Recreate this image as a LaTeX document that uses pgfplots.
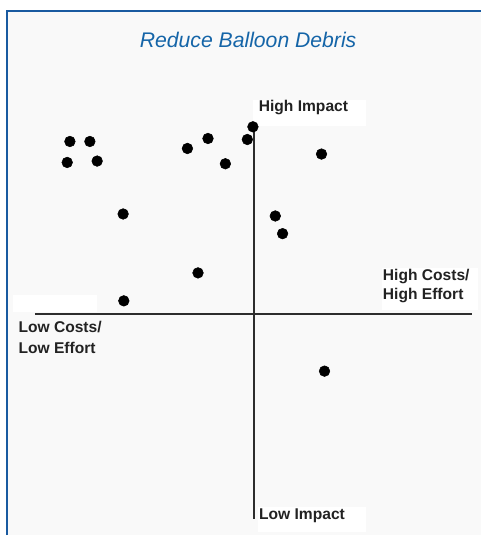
\documentclass[border=0pt]{standalone}
\usepackage{pgfplots}
\pgfplotsset{compat=1.18}
\usepackage{fontspec}
\setmainfont{Liberation Sans}
\definecolor{titleblue}{RGB}{21,101,168}
\definecolor{borderblue}{RGB}{25,90,160}
\definecolor{bgc}{RGB}{249,249,249}
\definecolor{txt}{RGB}{34,34,34}
\definecolor{linec}{RGB}{45,45,45}
\begin{document}
\begin{tikzpicture}
\begin{axis}[
  scale only axis, width=361.5pt, height=402pt,
  xmin=-254, xmax=228, ymin=-222, ymax=314,
  hide axis, clip=false,
]
% background
\fill[white] (axis cs:-254,314) rectangle (axis cs:228,-222);
\fill[bgc] (axis cs:-247,303) rectangle (axis cs:228,-222);
\draw[borderblue, line width=1.2pt] (axis cs:-247,-222) -- (axis cs:-247,303) -- (axis cs:228,303);
% white label boxes
\fill[white] (axis cs:-1,214) rectangle (axis cs:113,188);
\fill[white] (axis cs:129,46) rectangle (axis cs:225,4);
\fill[white] (axis cs:4,-194) rectangle (axis cs:113,-219);
\fill[white] (axis cs:-241,19) rectangle (axis cs:-157,2);
% quadrant lines
\draw[linec, line width=1.5pt] (axis cs:0,192) -- (axis cs:0,-206);
\draw[linec, line width=1.5pt] (axis cs:-219,0) -- (axis cs:219,0);
% data
\addplot[only marks, mark=*, mark size=4pt, black] coordinates {
(-184,172.3) (-164,172.3) (-186.7,151.3) (-156.7,152.7)
(-66.3,165.3) (-45.7,175.3) (-6.3,174.3) (-0.7,187)
(-28.3,150) (68,159.7) (-130.7,99.7) (21.7,97.7)
(29,80) (-55.7,40.7) (-130,12.7) (71,-57.7)
};
% texts
\node[anchor=base, text=titleblue, font=\fontsize{15.9}{18}\selectfont\itshape, inner sep=0pt] at (axis cs:-5.5,266.3) {Reduce Balloon Debris};
\node[anchor=base west, text=txt, font=\fontsize{11.7}{14}\selectfont\bfseries, inner sep=0pt] at (axis cs:5,202.3) {High Impact};
\node[anchor=base west, text=txt, font=\fontsize{11.7}{14}\selectfont\bfseries, inner sep=0pt] at (axis cs:129.3,33.3) {High Costs/};
\node[anchor=base west, text=txt, font=\fontsize{11.7}{14}\selectfont\bfseries, inner sep=0pt] at (axis cs:129.3,14) {High Effort};
\node[anchor=base west, text=txt, font=\fontsize{11.7}{14}\selectfont\bfseries, inner sep=0pt] at (axis cs:-235.7,-19.3) {Low Costs/};
\node[anchor=base west, text=txt, font=\fontsize{11.7}{14}\selectfont\bfseries, inner sep=0pt] at (axis cs:-235.7,-40) {Low Effort};
\node[anchor=base west, text=txt, font=\fontsize{11.7}{14}\selectfont\bfseries, inner sep=0pt] at (axis cs:5.3,-206) {Low Impact};
\end{axis}
\end{tikzpicture}
\end{document}
